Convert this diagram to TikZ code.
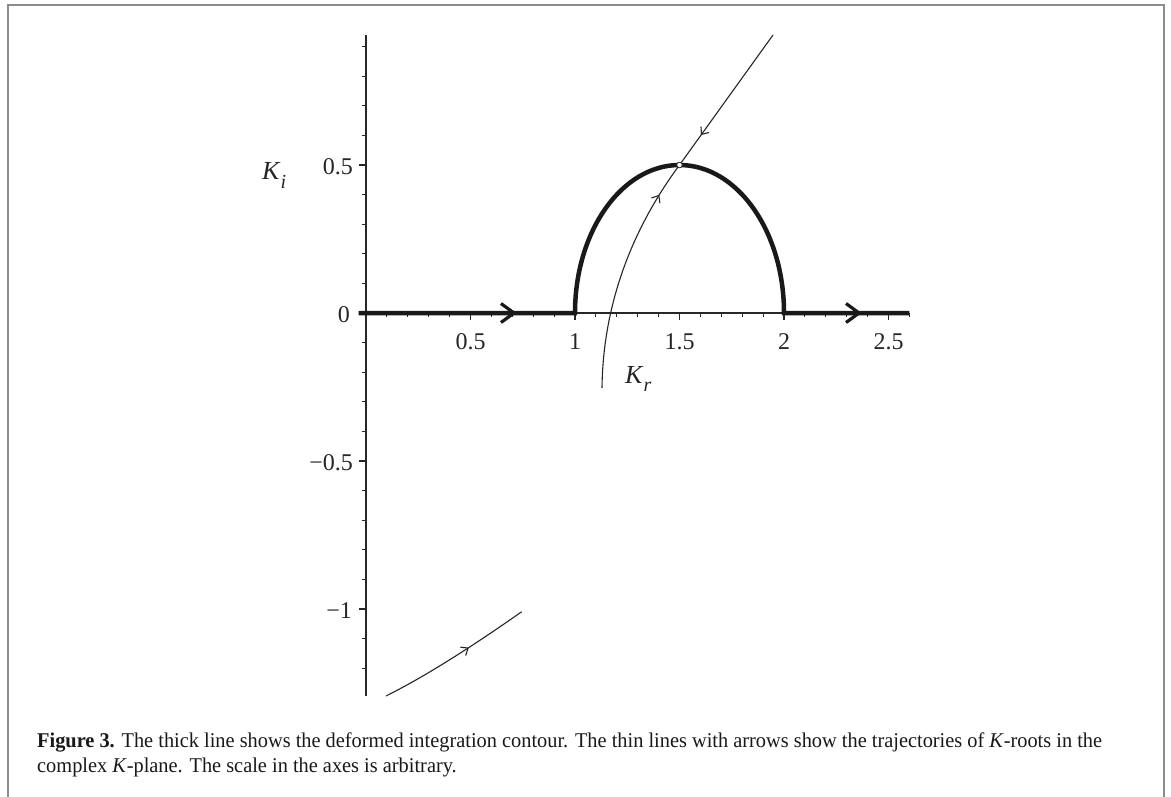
\documentclass[tikz,border=0pt]{standalone}
\usepackage{fontspec}
\setmainfont{Liberation Serif}
\usetikzlibrary{arrows.meta,decorations.markings}
\newlength\caplenA
\newcommand\capline[1]{\settowidth\caplenA{#1}\pgfmathsetmacro\capfac{1065/\caplenA}\xdef\capfacG{\capfac}\scalebox{\capfac}[1]{#1}}
\tikzset{
  axisline/.style={line width=1.4pt, black!85},
  tickmark/.style={line width=1.1pt, black!85},
  contour/.style={line width=4.5pt, black!90},
  traj/.style={line width=1.1pt, black!85},
  lab/.style={inner sep=0pt, font=\fontsize{24}{28}\selectfont, black!85},
  klab/.style={inner sep=0pt, font=\fontsize{26}{30}\selectfont, black!85},
  midarrow/.style={postaction=decorate, decoration={markings, mark=at position #1 with {\arrow{Straight Barb[length=6pt,width=10pt,line width=1.1pt]}}}},
  bigbarb/.style={-{Straight Barb[length=13pt,width=19pt,line width=3.2pt]}},
  captext/.style={inner sep=0pt, anchor=base west, font=\fontsize{21}{25}\selectfont, black!90},
}
\begin{document}
\begin{tikzpicture}[x=1pt,y=-1pt]
\useasboundingbox (0,0) rectangle (1171,796);
\fill[white] (0,0) rectangle (1171,796);
% frame
\draw[line width=2pt, black!45] (8,800) -- (8,5) -- (1164,5) -- (1164,800);
% plot in data coordinates
\begin{scope}[shift={(366pt,-313pt)}, x=209pt, y=296pt]
  \draw[axisline] (-0.035,0) -- (2.6,0);
  \draw[axisline] (0,0.939) -- (0,-1.294);
  \foreach \k in {1,2,3,4,6,7,8,9,11,12,13,14,16,17,18,19,21,22,23,24,26}
    \draw[tickmark] (\k/10,0) -- ++(0pt,-4pt);
  \foreach \k in {5,10,15,20,25}
    \draw[tickmark] (\k/10,0) -- ++(0pt,-7pt);
  \foreach \k in {-12,-11,-9,-8,-7,-6,-4,-3,-2,-1,1,2,3,4,6,7,8,9}
    \draw[tickmark] (0,\k/10) -- ++(-4pt,0pt);
  \foreach \k in {-10,-5,5}
    \draw[tickmark] (0,\k/10) -- ++(-7pt,0pt);
  % tick labels
  \foreach \v/\t in {0.5/0.5, 1/1, 1.5/1.5, 2/2, 2.5/2.5}
    \node[lab, anchor=base] at ([yshift=-36pt]\v,0) {\t};
  \node[lab, anchor=base east] (y0) at ([xshift=-16pt,yshift=-9pt]0,0) {0};
  \node[lab, anchor=base east] (y05) at ([xshift=-13pt,yshift=-9pt]0,0.5) {0.5};
  \node[lab, anchor=base east] (ym05) at ([xshift=-13pt,yshift=-9pt]0,-0.5) {−0.5};
  \node[lab, anchor=base east] (ym1) at ([xshift=-14pt,yshift=-9pt]0,-1) {−1};
  % contour
  \draw[contour] (-0.035,0) -- (1,0) arc[start angle=180, end angle=0, x radius=104.5pt, y radius=148pt] -- (2.6,0);
  \draw[contour, bigbarb] (0.5,0) -- (0.721,0);
  \draw[contour, bigbarb] (2.1,0) -- (2.372,0);
\end{scope}
% axis titles
\node[klab, anchor=base west] (Ki) at (262,179) {\textit{K}\raisebox{-9pt}{\fontsize{20}{20}\selectfont\textit{i}}};
\node[klab, anchor=base west] (Kr) at (625,383) {\textit{K}\raisebox{-8pt}{\fontsize{20}{20}\selectfont\textit{r}}};
% trajectories
\draw[traj, midarrow=0.77] (773,35) -- (679.5,165);
\draw[traj, midarrow=0.85] (602,388) .. controls (603,300) and (635,225) .. (679.5,165);
\draw[traj, midarrow=0.6] (386,696) .. controls (430,674) and (480,641) .. (521.7,611.7);
\filldraw[fill=white, draw=black!85, line width=0.8pt] (679.5,165) circle[radius=2.8pt];
% caption
\node[captext] (cap1) at (37,747)
  {\capline{\textbf{Figure 3.} The thick line shows the deformed integration contour. The thin lines with arrows show the trajectories of \textit{K}-roots in the}};
\node[captext] (cap2) at (37,772)
  {\scalebox{\capfacG}[1]{complex \textit{K}-plane. The scale in the axes is arbitrary.}};
\end{tikzpicture}
\end{document}
